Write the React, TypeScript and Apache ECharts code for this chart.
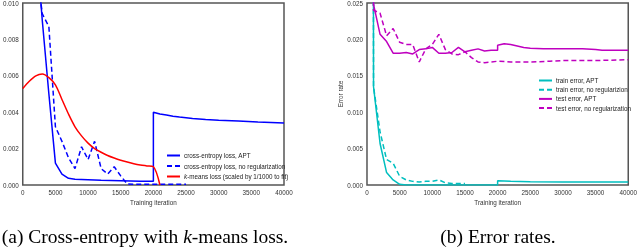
import React, { useEffect, useRef } from "react";
import * as echarts from "echarts";

// ---- Left panel: cross-entropy / k-means loss ----
const ceAptX = [2000, 3000, 4000, 5000, 6000, 7000, 8000, 10000, 12000, 15000, 18000, 20000, 20000, 21000, 22000, 23000, 24000, 26000, 28000, 30000, 33000, 36000, 40000];
const ceAptY = [0.0135, 0.009, 0.005, 0.0012, 0.0006, 0.00037, 0.00032, 0.00029, 0.00026, 0.00023, 0.0002, 0.0002, 0.0040, 0.0039, 0.00384, 0.00378, 0.00373, 0.00365, 0.0036, 0.00356, 0.00351, 0.00346, 0.00341];

const ceNoRegX = [2000, 3000, 4000, 5000, 6000, 7000, 8000, 9000, 10000, 11000, 12000, 13000, 14000, 15000, 16000, 18000, 20000, 22000, 25000];
const ceNoRegY = [0.0121, 0.0094, 0.0087, 0.0032, 0.0024, 0.0015, 0.0009, 0.0021, 0.0014, 0.0024, 0.0009, 0.0006, 0.001, 0.0005, 0.00005, 0.00004, 0.00004, 0.00004, 0.00004];

const kmX = [0, 1000, 2000, 3000, 4000, 5000, 6000, 7000, 8000, 9000, 10000, 11000, 12000, 13000, 14000, 15000, 16000, 17000, 18000, 19000, 20000, 21000];
const kmY = [0.0053, 0.0057, 0.006, 0.0061, 0.0059, 0.0055, 0.0047, 0.0039, 0.0032, 0.0027, 0.0023, 0.002, 0.0018, 0.00162, 0.00148, 0.00136, 0.00126, 0.00117, 0.0011, 0.00105, 0.001, 0];

// ---- Right panel: error rates ----
const trAptX = [0, 1000, 2000, 3000, 4000, 5000, 6000, 10000, 15000, 20000, 20000, 22000, 25000, 30000, 35000, 40000];
const trAptY = [0.9, 0.0135, 0.0057, 0.0017, 0.0007, 0.0001, 0, 0, 0, 0, 0.0006, 0.0005, 0.00045, 0.00042, 0.0004, 0.0004];

const trNoRegX = [0, 1000, 2000, 3000, 4000, 5000, 6000, 7000, 8000, 9000, 10000, 11000, 12000, 13000, 14000, 15000];
const trNoRegY = [0.9, 0.0135, 0.0073, 0.0035, 0.003, 0.0012, 0.0007, 0.0005, 0.0004, 0.0005, 0.0005, 0.0007, 0.0003, 0.0002, 0.0002, 0.0002];

const teAptX = [0, 1000, 2000, 3000, 4000, 5000, 6000, 7000, 8000, 9000, 10000, 11000, 12000, 13000, 14000, 15000, 16000, 17000, 18000, 19000, 20000, 20000, 21000, 22000, 23000, 24000, 25000, 27000, 30000, 33000, 35000, 36000, 40000];
const teAptY = [0.9, 0.0248, 0.0207, 0.0197, 0.0181, 0.0181, 0.0182, 0.018, 0.0186, 0.0187, 0.0189, 0.0181, 0.0181, 0.0182, 0.0189, 0.0183, 0.0185, 0.0187, 0.0184, 0.0185, 0.0185, 0.0192, 0.0194, 0.0193, 0.0191, 0.0189, 0.0188, 0.0187, 0.0187, 0.0187, 0.0186, 0.0185, 0.0185];

const teNoRegX = [0, 1000, 2000, 3000, 4000, 5000, 6000, 7000, 8000, 9000, 10000, 11000, 12000, 13000, 14000, 15000, 16000, 17000, 18000, 19000, 20000, 22000, 25000, 28000, 30000, 35000, 40000];
const teNoRegY = [0.9, 0.024, 0.0236, 0.0205, 0.0215, 0.0196, 0.0193, 0.0193, 0.0169, 0.0187, 0.0193, 0.0207, 0.0186, 0.018, 0.0179, 0.0183, 0.0175, 0.0169, 0.0168, 0.0169, 0.017, 0.0169, 0.0169, 0.017, 0.0171, 0.0171, 0.0172];

const xTicks = { min: 0, max: 40000, interval: 5000 };
const leftYTicks = { min: 0, max: 0.01, interval: 0.002 };
const rightYTicks = { min: 0, max: 0.025, interval: 0.005 };

const legendLeft = ["cross-entropy loss, APT", "cross-entropy loss, no regularization", "k-means loss (scaled by 1/1000 to fit)"];
const legendRight = ["train error, APT", "train error, no regularizion", "test error, APT", "test error, no regularization"];

const BLUE = "#0000ff";
const RED = "#ff0000";
const CYAN = "#00bfbf";
const MAGENTA = "#bf00bf";

const zip = (xs: number[], ys: number[]) => xs.map((x, i) => [x, ys[i]]);

export default function App() {
  const ref = useRef<HTMLDivElement>(null);
  useEffect(() => {
    if (!ref.current) return;
    const chart = echarts.init(ref.current, null, { renderer: "svg" });
    const font = "Liberation Sans";
    const FS = 6.3;
    const axisLabel = (fmt: (v: number) => string) => ({
      fontSize: FS,
      fontFamily: font,
      color: "#333",
      margin: 4,
      formatter: fmt,
    });
    const xAxisBase = (gridIndex: number) => ({
      type: "value" as const,
      gridIndex,
      ...xTicks,
      name: "Training iteration",
      nameLocation: "middle" as const,
      nameGap: 14,
      nameTextStyle: { fontSize: FS, fontFamily: font, color: "#333" },
      axisLine: { show: false },
      axisTick: { show: false },
      splitLine: { show: false },
      axisLabel: axisLabel((v: number) => String(v)),
    });
    const line = (name: string, data: number[][], color: string, dashed: boolean, xi: number, smooth = false) => ({
      type: "line" as const,
      name,
      xAxisIndex: xi,
      yAxisIndex: xi,
      data,
      symbol: "none",
      clip: true,
      smooth: smooth ? 0.3 : false,
      lineStyle: { color, width: 1.5, type: dashed ? [5, 3] : "solid" },
      itemStyle: { color },
    });
    const legendText = {
      fontSize: FS,
      fontFamily: font,
      color: "#222",
      padding: [0, 0, 0, -1],
      rich: { i: { fontStyle: "italic", fontSize: FS, fontFamily: font, color: "#222" } },
    };
    chart.setOption({
      animation: false,
      grid: [
        { left: 20, top: 2, width: 264, height: 183, show: true, borderColor: "#555", borderWidth: 1.5, backgroundColor: "transparent" },
        { left: 367, top: 3, width: 265, height: 182, show: true, borderColor: "#555", borderWidth: 1.5, backgroundColor: "transparent" },
      ],
      xAxis: [xAxisBase(0), xAxisBase(1)],
      yAxis: [
        {
          type: "value",
          gridIndex: 0,
          ...leftYTicks,
          axisLine: { show: false },
          axisTick: { show: false },
          splitLine: { show: false },
          axisLabel: axisLabel((v: number) => v.toFixed(3)),
        },
        {
          type: "value",
          gridIndex: 1,
          ...rightYTicks,
          name: "Error rate",
          nameLocation: "middle",
          nameGap: 24,
          nameTextStyle: { fontSize: FS, fontFamily: font, color: "#333" },
          axisLine: { show: false },
          axisTick: { show: false },
          splitLine: { show: false },
          axisLabel: axisLabel((v: number) => v.toFixed(3)),
        },
      ],
      legend: [
        {
          data: legendLeft,
          orient: "vertical",
          left: 166,
          top: 152.5,
          itemWidth: 13,
          itemHeight: 7,
          itemGap: 4.5,
          itemStyle: { opacity: 0 },
          formatter: (n: string) => (n.startsWith("k-means") ? "{i|k}" + n.slice(1) : n),
          textStyle: legendText,
          padding: 0,
        },
        {
          data: legendRight,
          orient: "vertical",
          left: 538,
          top: 77.5,
          itemWidth: 13,
          itemHeight: 7,
          itemGap: 3.2,
          itemStyle: { opacity: 0 },
          textStyle: legendText,
          padding: 0,
        },
      ],
      series: [
        line(legendLeft[0], zip(ceAptX, ceAptY), BLUE, false, 0),
        line(legendLeft[1], zip(ceNoRegX, ceNoRegY), BLUE, true, 0),
        line(legendLeft[2], zip(kmX, kmY), RED, false, 0, true),
        line(legendRight[0], zip(trAptX, trAptY), CYAN, false, 1),
        line(legendRight[1], zip(trNoRegX, trNoRegY), CYAN, true, 1),
        line(legendRight[2], zip(teAptX, teAptY), MAGENTA, false, 1),
        line(legendRight[3], zip(teNoRegX, teNoRegY), MAGENTA, true, 1),
      ],
      graphic: [
        {
          type: "text",
          x: 145,
          y: 236,
          style: {
            text: "(a) Cross-entropy with {i|k}-means loss.",
            font: "19.5px 'Liberation Serif'",
            fill: "#000",
            align: "center",
            verticalAlign: "middle",
            rich: { i: { fontStyle: "italic", fontSize: 19.5, fontFamily: "Liberation Serif" } },
          },
        },
        {
          type: "text",
          x: 498,
          y: 236,
          style: {
            text: "(b) Error rates.",
            font: "19.5px 'Liberation Serif'",
            fill: "#000",
            align: "center",
            verticalAlign: "middle",
          },
        },
      ],
    });
    return () => chart.dispose();
  }, []);
  return <div ref={ref} style={{ position: "fixed", left: 0, top: 0, width: 640, height: 247 }} />;
}
